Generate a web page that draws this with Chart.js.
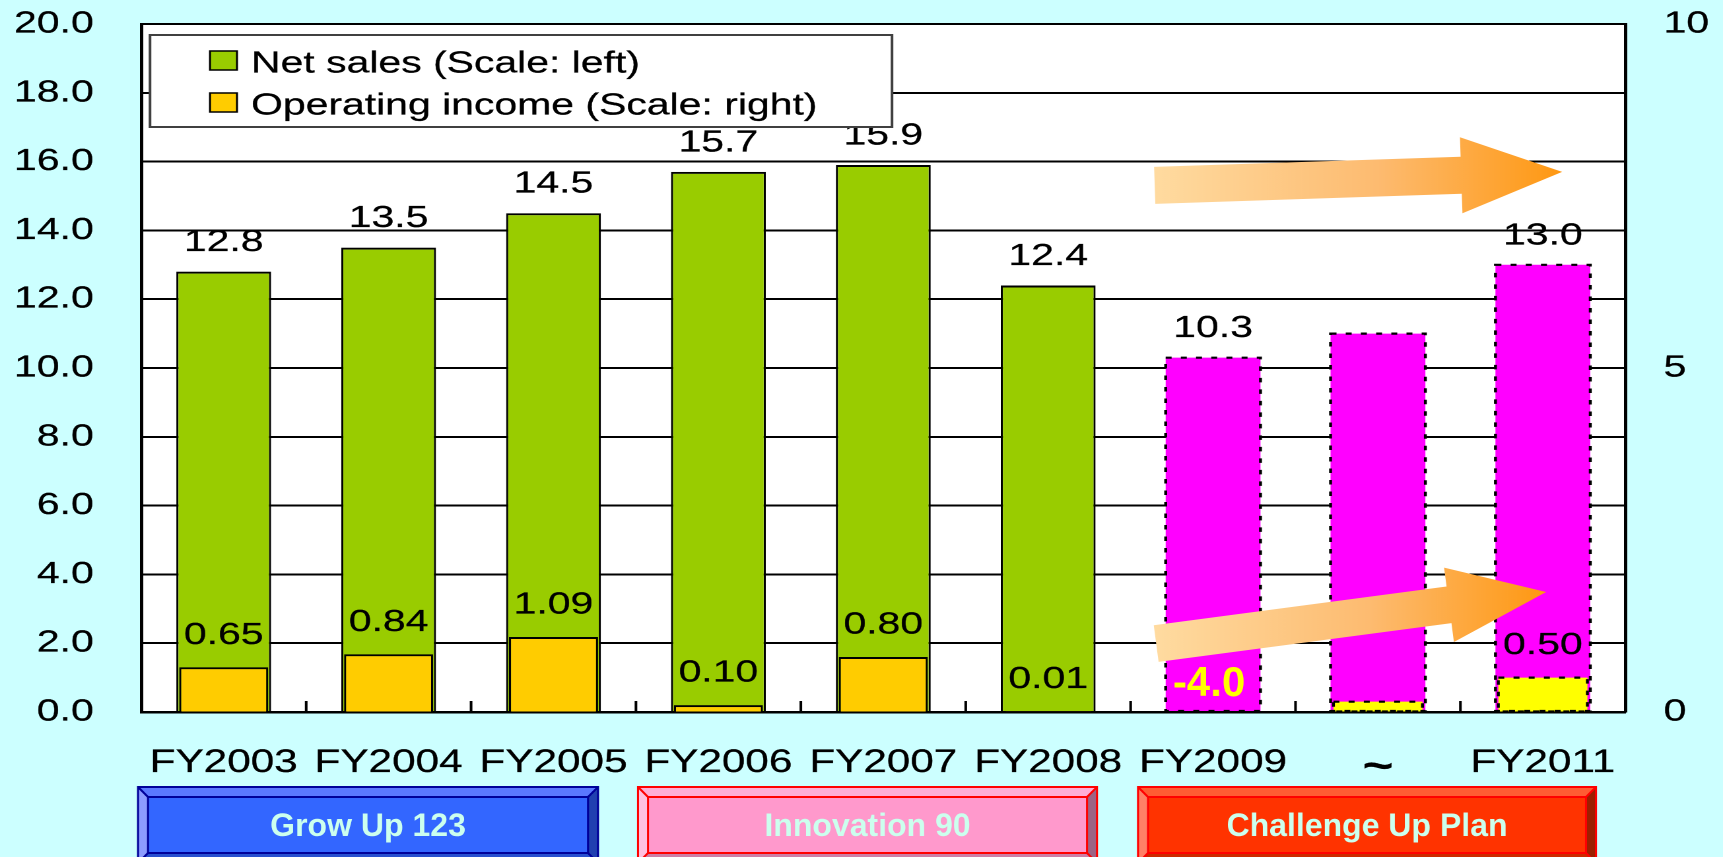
<!DOCTYPE html>
<html>
<head>
<meta charset="utf-8">
<title>Net sales and operating income</title>
<script src="https://cdn.jsdelivr.net/npm/chart.js@4.4.0/dist/chart.umd.min.js"></script>
<style>
  html, body { margin: 0; padding: 0; background: #CCFFFF; overflow: hidden; }
  canvas { display: block; }
</style>
</head>
<body>
<canvas id="chart" width="1305" height="857" style="width:1723px;height:857px"></canvas>
<script>
// ---- data ----
const categories = ['FY2003', 'FY2004', 'FY2005', 'FY2006', 'FY2007', 'FY2008', 'FY2009', '~', 'FY2011'];
const netSales = [12.8, 13.5, 14.5, 15.7, 15.9, 12.4, 10.3, 11.0, 13.0];
const operatingIncome = [0.65, 0.84, 1.09, 0.10, 0.80, 0.01, -4.0, 0.15, 0.50];
const planYears = [false, false, false, false, false, false, true, true, true];
const labelledYears = [true, true, true, true, true, true, true, false, true];
const salesTicks = [0, 2, 4, 6, 8, 10, 12, 14, 16, 18, 20];
const incomeTicks = [0, 5, 10];
const phases = ['Grow Up 123', 'Innovation 90', 'Challenge Up Plan'];

// ---- page geometry: the chart is laid out in a narrower space and widened by CSS ----
const PAGE_W = 1723;
const LOGICAL_W = 1305;
const SX = PAGE_W / LOGICAL_W;
const FONT = "'Liberation Sans', Arial, Helvetica, sans-serif";
const TEXT_STROKE = 0.25;

Chart.defaults.font.family = FONT;
Chart.defaults.font.size = 31;
Chart.defaults.color = '#000';

// orange trend arrows, anchored in (category index, left-axis value) units
const trendArrows = [
  { from: [5.646, 15.31], to: [8.117, 15.70], shaft: 37, headLength: 101, headWidth: 76 },
  { from: [5.655, 1.99], to: [8.020, 3.49], shaft: 37, headLength: 98, headWidth: 75 }
];

// management-plan banners under the axis (page pixels)
const phaseStyles = [
  { x0: 138, x1: 598, face: '#3366FF', top: '#5A78FF', left: '#8C9CFF', right: '#2040B0', bottom: '#2850D0', line: '#000099' },
  { x0: 638, x1: 1097, face: '#FF99CC', top: '#FFADD6', left: '#FFC0E0', right: '#9C6384', bottom: '#CC7FA6', line: '#FF0000' },
  { x0: 1138, x1: 1596, face: '#FF3300', top: '#FF5C33', left: '#FF8066', right: '#9C2000', bottom: '#CC2A00', line: '#FF0000' }
];

function poly(ctx, pts, fill) {
  ctx.beginPath();
  ctx.moveTo(pts[0][0], pts[0][1]);
  for (let i = 1; i < pts.length; i++) ctx.lineTo(pts[i][0], pts[i][1]);
  ctx.closePath();
  ctx.fillStyle = fill;
  ctx.fill();
}

function strokedText(ctx, text, x, y, color) {
  ctx.fillStyle = color;
  ctx.strokeStyle = color;
  ctx.lineWidth = TEXT_STROKE;
  ctx.fillText(text, x, y);
  ctx.strokeText(text, x, y);
}

function bevelBox(ctx, s, y0, y1, b, text) {
  const {x0, x1} = s;
  const ix0 = x0 + b, iy0 = y0 + b, ix1 = x1 - b, iy1 = y1 - b;
  poly(ctx, [[x0, y0], [x1, y0], [ix1, iy0], [ix0, iy0]], s.top);
  poly(ctx, [[x0, y0], [ix0, iy0], [ix0, iy1], [x0, y1]], s.left);
  poly(ctx, [[x1, y0], [x1, y1], [ix1, iy1], [ix1, iy0]], s.right);
  poly(ctx, [[x0, y1], [ix0, iy1], [ix1, iy1], [x1, y1]], s.bottom);
  ctx.fillStyle = s.face;
  ctx.fillRect(ix0, iy0, ix1 - ix0, iy1 - iy0);
  ctx.strokeStyle = s.line;
  ctx.lineWidth = 2;
  ctx.strokeRect(x0, y0, x1 - x0, y1 - y0);
  ctx.strokeRect(ix0, iy0, ix1 - ix0, iy1 - iy0);
  ctx.beginPath();
  ctx.moveTo(x0, y0); ctx.lineTo(ix0, iy0);
  ctx.moveTo(x1, y0); ctx.lineTo(ix1, iy0);
  ctx.moveTo(x0, y1); ctx.lineTo(ix0, iy1);
  ctx.moveTo(x1, y1); ctx.lineTo(ix1, iy1);
  ctx.stroke();
  ctx.font = 'bold 32px ' + FONT;
  ctx.textAlign = 'center';
  ctx.textBaseline = 'middle';
  ctx.fillStyle = '#CCFFEE';
  ctx.fillText(text, (x0 + x1) / 2, 827);
}

function drawArrow(ctx, tail, tip, a) {
  const dx = tip[0] - tail[0], dy = tip[1] - tail[1];
  const len = Math.hypot(dx, dy);
  const ux = dx / len, uy = dy / len;
  const nx = -uy, ny = ux;
  const bx = tip[0] - ux * a.headLength, by = tip[1] - uy * a.headLength;
  const h = a.shaft / 2, H = a.headWidth / 2;
  const g = ctx.createLinearGradient(tail[0], 0, tip[0], 0);
  g.addColorStop(0, '#FFDBA0');
  g.addColorStop(0.55, '#FDBB70');
  g.addColorStop(1, '#FF9812');
  poly(ctx, [
    [tail[0] + nx * h, tail[1] + ny * h],
    [bx + nx * h, by + ny * h],
    [bx + nx * H, by + ny * H],
    tip,
    [bx - nx * H, by - ny * H],
    [bx - nx * h, by - ny * h],
    [tail[0] - nx * h, tail[1] - ny * h]
  ], g);
}

const decorations = {
  id: 'decorations',
  beforeDraw(chart) {
    const {ctx, chartArea: a} = chart;
    ctx.save();
    ctx.fillStyle = '#CCFFFF';
    ctx.fillRect(0, 0, chart.width, chart.height);
    ctx.fillStyle = '#FFFFFF';
    ctx.fillRect(a.left, a.top, a.right - a.left, a.bottom - a.top);
    ctx.restore();
  },
  afterDatasetsDraw(chart) {
    const {ctx} = chart;
    // dotted outlines of the plan-year bars
    chart.data.datasets.forEach((ds, di) => {
      chart.getDatasetMeta(di).data.forEach((bar, i) => {
        if (!planYears[i] || ds.data[i] <= 0) return;
        const {x, y, base, width} = bar.getProps(['x', 'y', 'base', 'width'], true);
        ctx.save();
        ctx.strokeStyle = '#000';
        ctx.lineWidth = 2.2;
        ctx.setLineDash([4.5, 7]);
        ctx.strokeRect(x - width / 2, y, width, base - y);
        ctx.restore();
      });
    });

    // value labels
    ctx.save();
    ctx.font = '31px ' + FONT;
    ctx.textAlign = 'center';
    ctx.textBaseline = 'middle';
    const salesBars = chart.getDatasetMeta(0).data;
    const incomeBars = chart.getDatasetMeta(1).data;
    netSales.forEach((v, i) => {
      if (!labelledYears[i]) return;
      strokedText(ctx, v.toFixed(1), salesBars[i].x, salesBars[i].y - 29, '#000');
    });
    operatingIncome.forEach((v, i) => {
      if (!labelledYears[i] || v < 0) return;
      strokedText(ctx, v.toFixed(2), incomeBars[i].x, incomeBars[i].y - 32, '#000');
    });
    // the loss year is written inside the bar, near the baseline
    ctx.scale(1 / SX, 1);
    ctx.font = 'bold 42px ' + FONT;
    operatingIncome.forEach((v, i) => {
      if (!labelledYears[i] || v >= 0) return;
      ctx.fillStyle = '#FFFF00';
      ctx.fillText(v.toFixed(1), incomeBars[i].x * SX - 4, incomeBars[i].base - 28);
    });
    ctx.restore();
  },
  afterDraw(chart) {
    const {ctx, chartArea: a} = chart;
    const xs = chart.scales.x, ys = chart.scales.y;

    // short tick marks between categories on the bottom axis
    ctx.save();
    ctx.strokeStyle = '#000';
    ctx.lineWidth = 2;
    ctx.beginPath();
    for (let i = 0; i < categories.length - 1; i++) {
      const bx = (xs.getPixelForValue(i) + xs.getPixelForValue(i + 1)) / 2;
      ctx.moveTo(bx, a.bottom);
      ctx.lineTo(bx, a.bottom - 11);
    }
    ctx.stroke();

    // legend box inside the plot
    const lx0 = 150 / SX, lx1 = 892 / SX;
    ctx.fillStyle = '#FFFFFF';
    ctx.fillRect(lx0, 35, lx1 - lx0, 92);
    ctx.strokeStyle = '#404040';
    ctx.lineWidth = 2;
    ctx.strokeRect(lx0, 35, lx1 - lx0, 92);
    ctx.font = '31px ' + FONT;
    ctx.textAlign = 'left';
    ctx.textBaseline = 'middle';
    chart.data.datasets.forEach((ds, i) => {
      const cy = 61 + i * 42;
      ctx.fillStyle = ds.backgroundColor[0];
      ctx.fillRect(210 / SX, cy - 10, 27 / SX, 19);
      ctx.strokeStyle = '#000';
      ctx.lineWidth = 1.5;
      ctx.strokeRect(210 / SX, cy - 10, 27 / SX, 19);
      strokedText(ctx, ds.label, 251 / SX, cy + 3, '#000');
    });
    ctx.restore();

    // page-pixel overlays: arrows and plan banners
    ctx.save();
    ctx.scale(1 / SX, 1);
    trendArrows.forEach(ar => {
      const tail = [xs.getPixelForValue(ar.from[0]) * SX, ys.getPixelForValue(ar.from[1])];
      const tip = [xs.getPixelForValue(ar.to[0]) * SX, ys.getPixelForValue(ar.to[1])];
      drawArrow(ctx, tail, tip, ar);
    });
    phases.forEach((name, i) => bevelBox(ctx, phaseStyles[i], 787, 863, 10, name));
    ctx.restore();
  }
};

new Chart(document.getElementById('chart'), {
  type: 'bar',
  data: {
    labels: categories,
    datasets: [
      {
        label: 'Net sales (Scale: left)',
        data: netSales,
        yAxisID: 'y',
        order: 2,
        grouped: false,
        categoryPercentage: 1,
        barPercentage: 0.575,
        backgroundColor: netSales.map((_, i) => planYears[i] ? '#FF00FF' : '#99CC00'),
        borderColor: '#000',
        borderWidth: c => planYears[c.dataIndex] ? 0 : {top: 2, left: 1.6, right: 1.6, bottom: 0},
        clip: 0
      },
      {
        label: 'Operating income (Scale: right)',
        data: operatingIncome,
        yAxisID: 'y2',
        order: 1,
        grouped: false,
        categoryPercentage: 1,
        barPercentage: 0.54,
        backgroundColor: operatingIncome.map((_, i) => planYears[i] ? '#FFFF00' : '#FFCC00'),
        borderColor: '#000',
        borderWidth: c => planYears[c.dataIndex] ? 0 : {top: 2, left: 1.6, right: 1.6, bottom: 0},
        clip: 0
      }
    ]
  },
  options: {
    responsive: false,
    devicePixelRatio: 2,
    animation: false,
    events: [],
    layout: { padding: { top: 24, left: 0, right: 0, bottom: 0 } },
    plugins: { legend: { display: false }, tooltip: { enabled: false } },
    scales: {
      x: {
        type: 'category',
        offset: true,
        grid: { display: false, drawTicks: false },
        border: { display: true, color: '#000', width: 2.5 },
        ticks: {
          color: '#000',
          padding: 32,
          autoSkip: false,
          maxRotation: 0,
          textStrokeColor: '#000',
          textStrokeWidth: TEXT_STROKE,
          font: c => c.index === 7 ? { size: 40, weight: 'bold' } : { size: 32 }
        },
        afterFit: s => { s.height = 145; s.paddingLeft = 0; s.paddingRight = 0; }
      },
      y: {
        position: 'left',
        min: 0,
        max: 20,
        afterBuildTicks: s => { s.ticks = salesTicks.map(value => ({ value })); },
        grid: { color: '#000', lineWidth: 2, drawTicks: false },
        border: { display: true, color: '#000', width: 2.5 },
        ticks: {
          color: '#000', padding: 36, font: { size: 31 },
          textStrokeColor: '#000', textStrokeWidth: TEXT_STROKE,
          callback: v => v.toFixed(1)
        },
        afterFit: s => { s.width = 107; s.paddingTop = 0; s.paddingBottom = 0; }
      },
      y2: {
        position: 'right',
        min: 0,
        max: 10,
        afterBuildTicks: s => { s.ticks = incomeTicks.map(value => ({ value })); },
        grid: { drawOnChartArea: false, drawTicks: false },
        border: { display: true, color: '#000', width: 2.5 },
        ticks: {
          color: '#000', padding: 29, font: { size: 31 },
          textStrokeColor: '#000', textStrokeWidth: TEXT_STROKE,
          callback: v => String(v)
        },
        afterFit: s => { s.width = 74; s.paddingTop = 0; s.paddingBottom = 0; }
      }
    }
  },
  plugins: [decorations]
});
</script>
</body>
</html>
